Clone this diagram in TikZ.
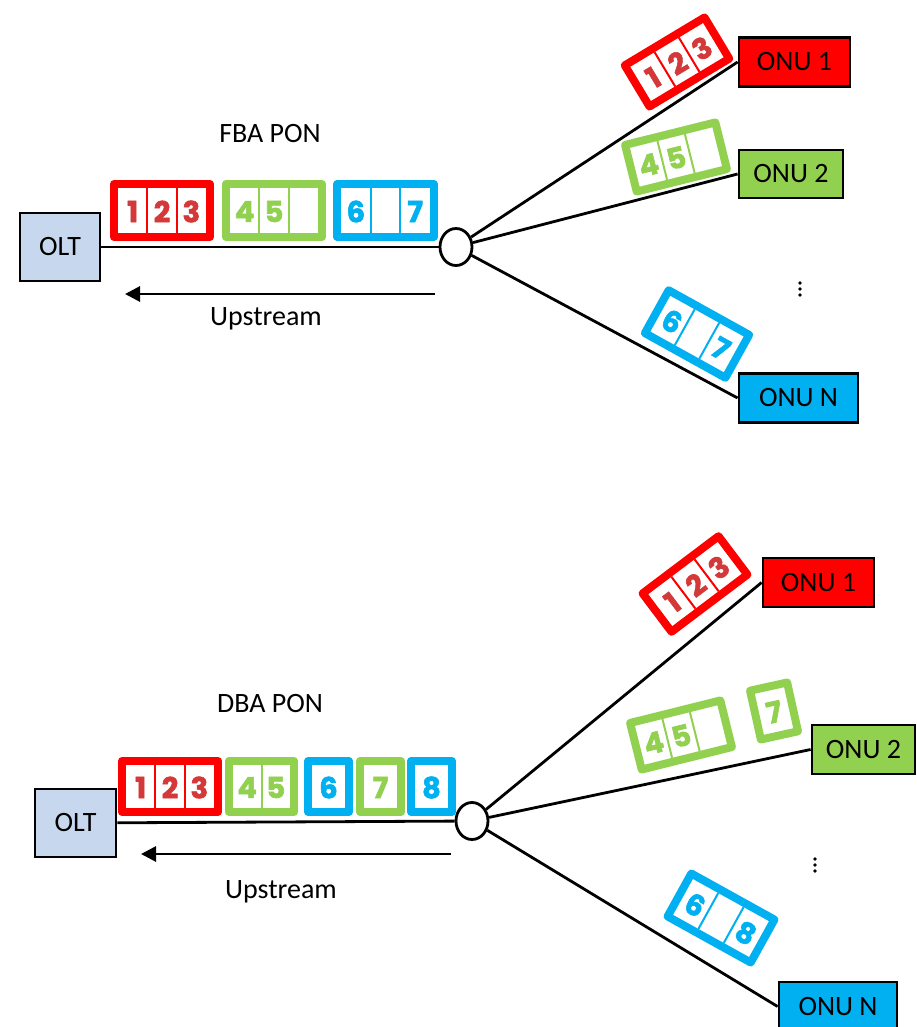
\documentclass[tikz,border=0pt]{standalone}
\usepackage{fontspec}
\setmainfont{Carlito}
\newfontfamily\digitfont{Poppins}[UprightFeatures={FakeBold=2}, BoldFeatures={FakeBold=2}]
\usetikzlibrary{shapes.geometric,arrows.meta}

\definecolor{onured}{RGB}{255,0,0}
\definecolor{onugreen}{RGB}{146,208,80}
\definecolor{onublue}{RGB}{0,176,240}
\definecolor{oltblue}{RGB}{198,215,238}
\definecolor{digitred}{RGB}{212,56,56}

\tikzset{
  lbl/.style={font=\fontsize{28}{34}\selectfont, inner sep=0pt},
  unit/.style={draw=black, line width=2.8pt, inner sep=0pt, font=\fontsize{28}{34}\selectfont},
  splitter/.style={ellipse, draw=black, line width=2.8pt, fill=white,
    minimum width=32pt, minimum height=37pt, inner sep=0pt},
  fibre/.style={draw=black, line width=2.8pt},
  flow/.style={draw=black, line width=2.8pt, -{Triangle[length=15pt,width=15pt]}},
  % a framed burst of time slots: frame colour, digit colour, width, height, slot count, slot labels
  pics/packet/.style n args={6}{code={
    \pgfmathsetmacro\pw{#3}
    \pgfmathsetmacro\ph{#4}
    \pgfmathsetmacro\cw{(#3-16)/#5}
    \draw[#1, line width=8pt, line join=round, fill=white]
      ({-\pw/2+4},{-\ph/2+4}) rectangle ({\pw/2-4},{\ph/2-4});
    \ifnum#5>1
      \foreach \k in {2,...,#5}
        \draw[#1, line width=2pt]
          ({-\pw/2+8+\cw*(\k-1)},{-\ph/2+8}) -- ({-\pw/2+8+\cw*(\k-1)},{\ph/2-8});
    \fi
    \foreach [count=\i] \d in {#6}
      \node[transform shape, text=#2, inner sep=0pt,
        font=\digitfont\bfseries\fontsize{29}{29}\selectfont]
        at ({-\pw/2+8+\cw*(\i-0.5)},1) {\d};
  }}
}

\begin{document}
\begin{tikzpicture}[x=1pt,y=-1pt]
\useasboundingbox (0,0) rectangle (917,1027);
\clip (0,0) rectangle (917,1027);

% ---------------- fixed bandwidth allocation ----------------
\node[lbl, anchor=base] (fbalbl) at (270,143) {FBA PON};

\node[unit, fill=oltblue, minimum width=80pt, minimum height=68pt] (olt1) at (60,247) {OLT};
\node[splitter] (sp1) at (456,247) {};
\node[unit, fill=onured, minimum width=111pt, minimum height=49pt] (onu1a) at (794.5,62) {ONU 1};
\node[unit, fill=onugreen, minimum width=104pt, minimum height=48pt] (onu2a) at (791,174) {ONU 2};
\node[unit, fill=onublue, minimum width=119pt, minimum height=49pt] (onuNa) at (798.5,398) {ONU N};

\draw[fibre] (olt1) -- (sp1);
\draw[fibre] (sp1) -- (onu1a.west);
\draw[fibre] (sp1) -- (onu2a.west);
\draw[fibre] (sp1) -- (onuNa.west);

\coordinate (up1s) at (435,294);
\coordinate (up1e) at (125,294);
\draw[flow] (up1s) -- (up1e);
\node[lbl, anchor=base] (up1lbl) at (266,325) {Upstream};

\pic (fr1) at (162,210.5) {packet={onured}{digitred}{104}{61}{3}{1,2,3}};
\pic (fg1) at (274,210.5) {packet={onugreen}{onugreen}{104}{61}{3}{4,5,{}}};
\pic (fb1) at (385.5,210.5) {packet={onublue}{onublue}{105}{61}{3}{6,{},7}};

\pic[rotate=31] (gr1) at (677,62) {packet={onured}{digitred}{101}{56}{3}{1,2,3}};
\pic[rotate=14] (gg1) at (676,157) {packet={onugreen}{onugreen}{101}{56}{3}{4,5,{}}};
\pic[rotate=-29] (gb1) at (697,334) {packet={onublue}{onublue}{100}{57}{3}{6,{},7}};

\foreach \yy in {283,289,295} \fill (800,\yy) circle (1.8pt);

% ---------------- dynamic bandwidth allocation ----------------
\node[lbl, anchor=base] (dbalbl) at (270,712) {DBA PON};

\node[unit, fill=oltblue, minimum width=81pt, minimum height=68pt] (olt2) at (75.5,823) {OLT};
\node[splitter] (sp2) at (472,821) {};
\node[unit, fill=onured, minimum width=111pt, minimum height=49pt] (onu1b) at (818.5,582.5) {ONU 1};
\node[unit, fill=onugreen, minimum width=103pt, minimum height=49pt] (onu2b) at (863.5,749.5) {ONU 2};
\node[unit, fill=onublue, minimum width=118pt, minimum height=49pt] (onuNb) at (838,1006.5) {ONU N};

\draw[fibre] (olt2) -- (sp2);
\draw[fibre] (sp2) -- (onu1b.west);
\draw[fibre] (sp2) -- (onu2b.west);
\draw[fibre] (sp2) -- (onuNb.west);

\coordinate (up2s) at (451,854);
\coordinate (up2e) at (141,854);
\draw[flow] (up2s) -- (up2e);
\node[lbl, anchor=base] (up2lbl) at (281,898) {Upstream};

\pic (dr1) at (170,786.5) {packet={onured}{digitred}{104}{59}{3}{1,2,3}};
\pic (dg1) at (261.5,786.5) {packet={onugreen}{onugreen}{73}{59}{2}{4,5}};
\pic (db1) at (328.5,786.5) {packet={onublue}{onublue}{49}{59}{1}{6}};
\pic (dg2) at (380.5,786.5) {packet={onugreen}{onugreen}{49}{59}{1}{7}};
\pic (db2) at (431.5,786.5) {packet={onublue}{onublue}{49}{59}{1}{8}};

\pic[rotate=37] (hr1) at (695,584) {packet={onured}{digitred}{103}{56}{3}{1,2,3}};
\pic[rotate=14] (hg1) at (681,735) {packet={onugreen}{onugreen}{101}{56}{3}{4,5,{}}};
\pic[rotate=12.5] (hg2) at (774,711) {packet={onugreen}{onugreen}{46}{58}{1}{7}};
\pic[rotate=-29] (hb1) at (721,918) {packet={onublue}{onublue}{103}{57}{3}{6,{},8}};

\foreach \yy in {859,865,871} \fill (815,\yy) circle (1.8pt);
\end{tikzpicture}
\end{document}
